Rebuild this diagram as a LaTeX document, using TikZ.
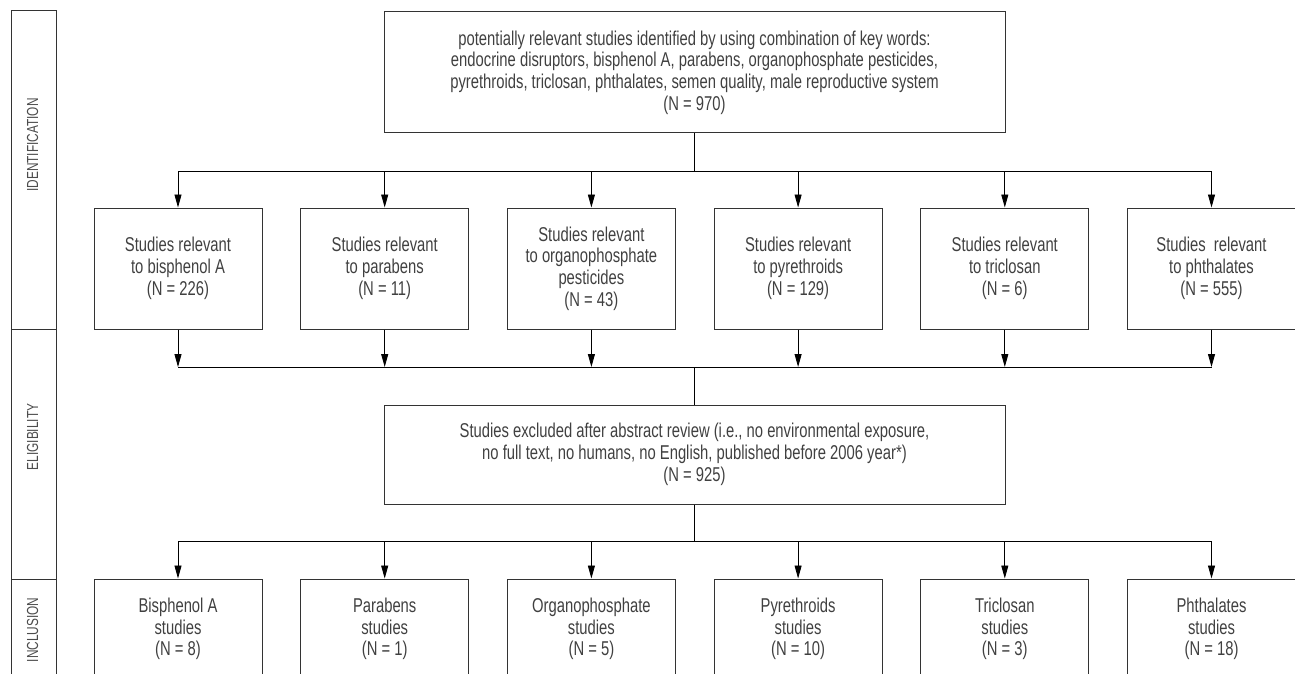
\documentclass[tikz,border=0pt]{standalone}
\usepackage{fontspec}
\setmainfont{Liberation Sans}[FakeStretch=0.74]
\usetikzlibrary{arrows.meta}
\begin{document}
\begin{tikzpicture}[x=1pt,y=-1pt,
  txt/.style={text=black!75, font=\fontsize{20}{21.7}\selectfont},
  box/.style={txt, draw=black!80, line width=1pt, align=center, inner sep=0pt},
  bigbox/.style={box, minimum width=621pt},
  srow/.style={box, minimum width=168pt, minimum height=121pt},
  brow/.style={box, minimum width=168pt, minimum height=100pt},
  phase/.style={draw=black!80, line width=1pt, rotate=90, inner sep=0pt, minimum height=45pt},
  phaselabel/.style={rotate=90, inner sep=0pt, text=black!70, font=\fontsize{16}{18}\selectfont},
  conn/.style={draw=black, line width=0.9pt},
  arr/.style={conn, -{Triangle[length=13pt,width=7pt]}}]
\useasboundingbox (0,0) rectangle (1295,674);
\clip (0,0) rectangle (1295,674);

% phase column
\node[phase, minimum width=318pt] (c1) at (33.5,170) {};
\node[phase, minimum width=250pt] (c2) at (33.5,454) {};
\node[phase, minimum width=100pt] (c3) at (33.5,629) {};
\node[phaselabel] (l1) at (32.5,145) {IDENTIFICATION};
\node[phaselabel] (l2) at (32.5,437) {ELIGIBILITY};
\node[phaselabel] (l3) at (32.5,630) {INCLUSION};

% top box
\node[bigbox, minimum height=121pt] (top) at (694.5,72.5)
  {potentially relevant studies identified by using combination of key words:\\
   endocrine disruptors, bisphenol A, parabens, organophosphate pesticides,\\
   pyrethroids, triclosan, phthalates, semen quality, male reproductive system\\
   (N = 970)};

% middle row
\node[srow] (s1) at (178,268.5)   {Studies relevant\\to bisphenol A\\(N = 226)};
\node[srow] (s2) at (384.7,268.5) {Studies relevant\\to parabens\\(N = 11)};
\node[srow] (s3) at (591.4,268.5) {Studies relevant\\to organophosphate\\pesticides\\(N = 43)};
\node[srow] (s4) at (798.1,268.5) {Studies relevant\\to pyrethroids\\(N = 129)};
\node[srow] (s5) at (1004.8,268.5){Studies relevant\\to triclosan\\(N = 6)};
\node[srow] (s6) at (1211.5,268.5){Studies\hspace{4pt} relevant\\to phthalates\\(N = 555)};

% exclusion box
\node[bigbox, minimum height=99pt] (mid) at (694.5,454.5)
  {Studies excluded after abstract review (i.e., no environmental exposure,\\
   no full text, no humans, no English, published before 2006 year*)\\
   (N = 925)};

% bottom row
\node[brow] (b1) at (178,629)    {Bisphenol A\\studies\\(N = 8)};
\node[brow] (b2) at (384.7,629)  {Parabens\\studies\\(N = 1)};
\node[brow] (b3) at (591.4,629)  {Organophosphate\\studies\\(N = 5)};
\node[brow] (b4) at (798.1,629)  {Pyrethroids\\studies\\(N = 10)};
\node[brow] (b5) at (1004.8,629) {Triclosan\\studies\\(N = 3)};
\node[brow] (b6) at (1211.5,629) {Phthalates\\studies\\(N = 18)};

% junctions
\coordinate (j1) at (694.5,171);
\coordinate (j2) at (694.5,367);
\coordinate (j3) at (694.5,541);

\draw[conn] (top.south) -- (j1);
\draw[conn] (s1.north |- j1) -- (s6.north |- j1);
\foreach \i in {1,...,6} \draw[arr] (s\i.north |- j1) -- (s\i.north);

\foreach \i in {1,...,6} \draw[arr] (s\i.south) -- (s\i.south |- j2);
\draw[conn] (s1.south |- j2) -- (s6.south |- j2);
\draw[conn] (j2) -- (mid.north);

\draw[conn] (mid.south) -- (j3);
\draw[conn] (b1.north |- j3) -- (b6.north |- j3);
\foreach \i in {1,...,6} \draw[arr] (b\i.north |- j3) -- (b\i.north);
\end{tikzpicture}
\end{document}
